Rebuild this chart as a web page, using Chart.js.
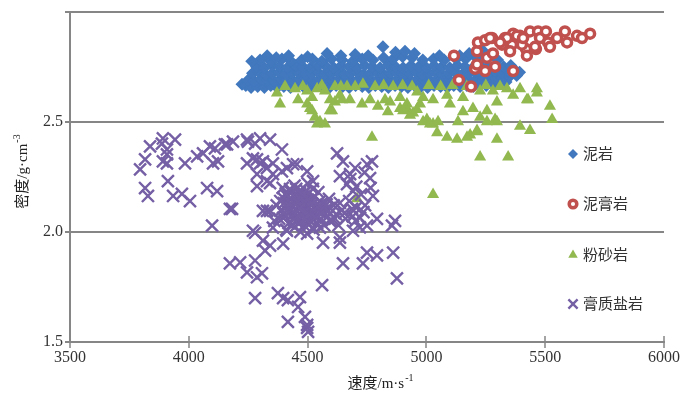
<!DOCTYPE html>
<html>
<head>
<meta charset="utf-8">
<script src="https://cdn.jsdelivr.net/npm/chart.js@4.4.1/dist/chart.umd.min.js"></script>
<style>
  html, body { margin: 0; padding: 0; background: #fff; }
</style>
</head>
<body>
<canvas id="chart" width="695" height="397"></canvas>
<script>
// 泥岩
let mudstone = [
  [4224,2.67],[4240,2.665],[4262,2.655],[4290,2.66],[4318,2.655],[4345,2.665],[4372,2.655],[4400,2.66],[4428,2.655],[4455,2.665],
  [4482,2.66],[4510,2.655],[4538,2.665],[4565,2.66],[4592,2.655],[4620,2.665],[4648,2.66],[4675,2.655],[4702,2.665],[4730,2.66],
  [4758,2.655],[4785,2.665],[4812,2.66],[4840,2.655],[4868,2.665],[4895,2.66],[4922,2.655],[4950,2.665],[4978,2.66],[5005,2.655],
  [5032,2.665],[5060,2.66],[5088,2.655],[5115,2.665],[5142,2.66],[5170,2.665],[5198,2.66],[5225,2.67],[5252,2.665],[5280,2.67],
  [5308,2.675],[5335,2.68],
  [4250,2.69],[4276,2.685],[4304,2.695],[4331,2.69],[4358,2.685],[4386,2.695],[4414,2.69],[4441,2.685],[4468,2.695],[4496,2.69],
  [4524,2.685],[4551,2.695],[4578,2.69],[4606,2.685],[4634,2.695],[4661,2.69],[4688,2.685],[4716,2.695],[4744,2.69],[4771,2.685],
  [4798,2.695],[4826,2.69],[4854,2.685],[4881,2.695],[4908,2.69],[4936,2.685],[4964,2.695],[4991,2.69],[5018,2.685],[5046,2.695],
  [5074,2.69],[5101,2.685],[5128,2.695],[5156,2.69],[5184,2.685],[5211,2.695],[5238,2.69],[5266,2.70],[5294,2.695],[5321,2.70],
  [5350,2.705],[5380,2.71],
  [4268,2.72],[4296,2.725],[4324,2.715],[4352,2.72],[4380,2.725],[4407,2.715],[4434,2.72],[4462,2.725],[4490,2.715],[4517,2.72],
  [4544,2.725],[4572,2.715],[4600,2.72],[4627,2.725],[4654,2.715],[4682,2.72],[4710,2.725],[4737,2.715],[4764,2.72],[4792,2.725],
  [4820,2.715],[4847,2.72],[4874,2.725],[4902,2.715],[4930,2.72],[4957,2.725],[4984,2.715],[5012,2.72],[5040,2.725],[5067,2.715],
  [5094,2.72],[5122,2.725],[5150,2.715],[5177,2.72],[5204,2.725],[5232,2.715],[5260,2.72],[5288,2.73],[5315,2.725],[5343,2.73],
  [5372,2.735],[5392,2.725],
  [4285,2.75],[4318,2.745],[4350,2.755],[4382,2.75],[4415,2.745],[4448,2.755],[4480,2.75],[4512,2.745],[4545,2.755],[4578,2.75],
  [4610,2.745],[4642,2.755],[4675,2.75],[4708,2.745],[4740,2.755],[4772,2.75],[4805,2.745],[4838,2.755],[4870,2.75],[4902,2.745],
  [4935,2.755],[4968,2.75],[5000,2.745],[5032,2.755],[5065,2.75],[5098,2.745],[5130,2.755],[5162,2.75],[5195,2.745],[5228,2.755],
  [5260,2.75],[5292,2.755],[5325,2.75],[5355,2.755],
  [4300,2.78],[4345,2.775],[4392,2.785],[4430,2.775],[4475,2.78],[4520,2.785],[4560,2.775],[4600,2.785],[4645,2.78],[4690,2.775],
  [4730,2.785],[4775,2.78],[4820,2.79],[4860,2.785],[4900,2.795],[4940,2.79],[4985,2.78],[5030,2.785],[5075,2.78],[5120,2.79],
  [5165,2.785],[5210,2.79],[5250,2.795],[5300,2.78],
  [4265,2.775],[4330,2.80],[4420,2.80],[4582,2.81],[4640,2.80],[4700,2.805],[4817,2.84],[4870,2.815],[4910,2.82],[4950,2.81],
  [5180,2.81],[5240,2.82],[4368,2.79],[4500,2.795],[4755,2.80],[5055,2.80],[5140,2.80]
];

// 泥膏岩
let gypsumMudstone = [
  [5116,2.80],[5137,2.69],[5188,2.66],[5205,2.74],[5213,2.76],[5213,2.82],[5217,2.86],[5247,2.87],[5247,2.73],[5255,2.79],
  [5276,2.88],[5280,2.81],[5289,2.75],[5318,2.85],[5331,2.88],[5360,2.85],[5365,2.90],[5365,2.73],[5394,2.89],[5419,2.83],
  [5423,2.80],[5436,2.91],[5461,2.83],[5470,2.91],[5478,2.88],[5503,2.91],[5512,2.86],[5520,2.84],[5550,2.88],[5583,2.91],
  [5592,2.86],[5634,2.89],[5655,2.88],[5689,2.90],[5339,2.88],[5381,2.89],[5310,2.86],[5352,2.82],[5402,2.85],[5268,2.88],
  [5407,2.88],[5457,2.84]
];

// 粉砂岩
let siltstone = [
  [4371,2.63],[4384,2.58],[4447,2.65],[4460,2.60],[4498,2.58],[4519,2.55],[4540,2.49],[4573,2.49],[4603,2.55],[4615,2.59],
  [4540,2.65],[4573,2.64],[4615,2.66],[4645,2.60],[4678,2.60],[4666,2.66],[4700,2.66],[4733,2.67],[4729,2.58],[4763,2.60],
  [4771,2.43],[4796,2.57],[4784,2.66],[4519,2.61],[4498,2.64],[4510,2.56],[4531,2.52],[4552,2.50],[4594,2.55],[4594,2.60],
  [4636,2.62],[4826,2.60],[4889,2.61],[4918,2.56],[4944,2.54],[4973,2.58],[5002,2.51],[5028,2.49],[5049,2.50],[5087,2.43],
  [5129,2.42],[5133,2.50],[5154,2.545],[5184,2.44],[5213,2.46],[5226,2.52],[5255,2.55],[5289,2.51],[5297,2.42],[5226,2.34],
  [5344,2.34],[5394,2.48],[5436,2.46],[5428,2.60],[5465,2.63],[5226,2.64],[5280,2.64],[5339,2.65],[5394,2.65],[5365,2.62],
  [5297,2.59],[5196,2.56],[5154,2.61],[5099,2.58],[5087,2.62],[5028,2.60],[4986,2.61],[4961,2.635],[4889,2.56],[4847,2.59],
  [4838,2.545],[5529,2.51],[5465,2.65],[5423,2.60],[5520,2.57],[5028,2.17],[4708,2.15],
  [4405,2.66],[4480,2.66],[4560,2.665],[4640,2.66],[4820,2.665],[4860,2.66],[4900,2.665],[4940,2.66],[5010,2.665],[5060,2.66],
  [5110,2.665],[5170,2.66],[5250,2.665],[5310,2.66],
  [4902,2.55],[4931,2.53],[4986,2.50],[5015,2.49],[5045,2.45],[5171,2.43],[5213,2.455],[5255,2.50],[5297,2.50],[4918,2.58],
  [4960,2.555]
];

// 膏质盐岩
let gypsumSalt = [
  [3837,2.388],[3891,2.424],[3942,2.419],[3887,2.401],[3908,2.374],[3908,2.352],[3891,2.32],[3908,2.311],[3816,2.329],[3795,2.284],
  [3984,2.311],[3912,2.23],[3816,2.199],[3828,2.163],[3934,2.163],[3971,2.172],[4005,2.14],[4077,2.199],[4119,2.185],[4182,2.104],
  [4098,2.028],[4035,2.343],[4060,2.356],[4089,2.388],[4110,2.379],[4102,2.311],[4123,2.32],[4161,2.397],[4186,2.41],[4245,2.419],
  [4279,2.401],[4300,2.424],[4342,2.419],[4392,2.374],[4245,2.311],[4287,2.329],[4312,2.32],[4329,2.289],[4354,2.311],[4287,2.208],
  [4329,2.23],[4392,2.275],[4439,2.307],[4329,2.095],[4279,1.996],
  [4152,2.397],[4249,2.41],[4270,2.334],[4300,2.311],[4287,2.262],[4354,2.262],[4342,2.221],[4413,2.289],[4455,2.307],[4498,2.275],
  [4523,2.23],[4624,2.356],[4649,2.32],[4750,2.307],[4771,2.32],[4763,2.244],[4636,2.253],[4679,2.262],[4666,2.217],[4691,2.185],
  [4775,2.163],[4173,2.104],[4312,2.095],[4270,2.005],[4397,2.154],[4426,2.194],[4468,2.176],[4552,2.14],[4594,2.109],[4636,2.131],
  [4687,2.104],[4721,2.064],[4750,2.028],[4792,2.059],[4855,2.028],[4868,2.05],[4636,1.974],[4691,2.005],[4552,2.019],[4498,1.992],
  [4413,2.005],[4354,2.019],[4312,1.96],[4468,2.064],[4523,2.082],[4594,2.05],[4397,2.064],[4342,2.095],
  [4173,1.857],[4216,1.861],[4245,1.816],[4279,1.87],[4308,1.812],[4287,1.794],[4321,1.915],[4342,1.938],[4397,1.947],[4279,1.699],
  [4375,1.722],[4397,1.699],[4417,1.69],[4468,1.704],[4460,1.659],[4489,1.614],[4417,1.591],[4498,1.564],[4502,1.546],[4498,1.578],
  [4561,1.758],[4649,1.857],[4733,1.857],[4750,1.906],[4792,1.893],[4860,1.906],[4876,1.789],[4565,1.951],[4636,1.951],
  [4390,2.10],[4400,2.13],[4405,2.07],[4415,2.16],[4420,2.04],[4425,2.11],[4430,2.18],[4435,2.08],[4440,2.14],[4445,2.02],
  [4450,2.10],[4455,2.17],[4460,2.06],[4465,2.12],[4470,2.19],[4475,2.09],[4480,2.15],[4485,2.03],[4490,2.11],[4495,2.07],
  [4500,2.17],[4505,2.13],[4510,2.05],[4515,2.10],[4520,2.15],[4525,2.01],[4530,2.08],[4535,2.12],[4540,2.04],[4545,2.18],
  [4550,2.09],[4555,2.06],[4560,2.13],[4570,2.03],[4575,2.10],[4585,2.07],[4590,2.15],[4600,2.05],[4610,2.12],[4620,2.08],
  [4630,2.03],[4645,2.10],[4660,2.06],[4675,2.14],[4690,2.07],[4705,2.11],[4720,2.02],[4735,2.09],[4380,2.06],[4370,2.12],
  [4360,2.05],[4395,2.20],[4445,2.21],[4410,2.01],[4470,2.00],[4500,2.22],[4465,2.04],[4428,2.15],[4488,2.14],
  [4455,2.045],[4478,2.12],[4512,2.08],[4432,2.125],[4495,2.185],[4528,2.16],[4418,2.09],[4462,2.155],[4508,2.035],[4540,2.10],
  [4412,2.115],[4438,2.165],[4448,2.085],[4458,2.135],[4472,2.075],[4482,2.175],[4492,2.095],[4502,2.145],[4518,2.125],[4532,2.065],
  [4548,2.12],[4562,2.09],[4442,2.055],[4468,2.105],[4488,2.06],[4522,2.195],[4408,2.175],[4385,2.14],[4398,2.085],[4452,2.195],
  [4580,2.125],[4595,2.085],[4615,2.06],[4655,2.085],[4702,2.05],[4742,2.12],[4725,2.17],[4705,2.205],[4680,2.24],[4740,2.27],
  [4700,2.29],[4765,2.20]
];

let seriesNames = ['泥岩', '泥膏岩', '粉砂岩', '膏质盐岩'];
let xTicks = [3500, 4000, 4500, 5000, 5500, 6000];
let yTicks = [1.5, 2.0, 2.5, 3.0];

const serif = '"Liberation Serif", "Times New Roman", "Noto Sans CJK SC", serif';
const axisGray = '#868686';

function toPoints(arr) {
  return arr.map(p => ({ x: p[0], y: p[1] }));
}

function series(label, arr, style, radius, fill, stroke, bw, order) {
  return {
    label, data: toPoints(arr), order,
    pointStyle: style, pointRadius: radius,
    pointBackgroundColor: fill, pointBorderColor: stroke, pointBorderWidth: bw,
    backgroundColor: fill, borderColor: stroke, borderWidth: bw
  };
}

let datasets = [
  series(seriesNames[0], mudstone, 'rectRot', 6.5, '#4178BE', '#4178BE', 0, 4),
  series(seriesNames[1], gypsumMudstone, 'circle', 4.5, '#ffffff', '#C0504D', 3.5, 2),
  series(seriesNames[2], siltstone, 'triangle', 7, '#92B850', '#92B850', 0, 3),
  series(seriesNames[3], gypsumSalt, 'crossRot', 8.5, '#755FA5', '#755FA5', 2.4, 1)
];

// legend markers are smaller than the plot marks
let legendMarks = [
  { pointStyle: 'rectRot', radius: 5 },
  { pointStyle: 'circle', radius: 3.8 },
  { pointStyle: 'triangle', radius: 5.5 },
  { pointStyle: 'crossRot', radius: 6.5 }
];

function drawSupText(ctx, main, sup, cx, cy) {
  ctx.font = '15px ' + serif;
  let w1 = ctx.measureText(main).width;
  ctx.font = '10px ' + serif;
  let w2 = ctx.measureText(sup).width;
  let x0 = cx - (w1 + w2) / 2;
  ctx.textBaseline = 'middle';
  ctx.textAlign = 'left';
  ctx.font = '15px ' + serif;
  ctx.fillText(main, x0, cy);
  ctx.font = '10px ' + serif;
  ctx.fillText(sup, x0 + w1 + 1, cy - 6);
}

const decor = {
  id: 'decor',
  afterDraw(chart) {
    const { ctx, chartArea: a, scales: { x } } = chart;
    ctx.save();
    // cross tick marks on the x axis
    ctx.strokeStyle = axisGray;
    ctx.lineWidth = 1.5;
    xTicks.forEach(v => {
      let px = Math.round(x.getPixelForValue(v));
      ctx.beginPath();
      ctx.moveTo(px, a.bottom - 6);
      ctx.lineTo(px, a.bottom + 6);
      ctx.stroke();
    });

    // axis titles
    ctx.fillStyle = '#222';
    drawSupText(ctx, '速度/m·s', '-1', 380, 384);
    ctx.save();
    ctx.translate(23, 172);
    ctx.rotate(-Math.PI / 2);
    drawSupText(ctx, '密度/g·cm', '-3', 0, 0);
    ctx.restore();

    // legend inside the plot area
    let ly = [154, 204, 255, 304];
    datasets.forEach((ds, i) => {
      ctx.fillStyle = ds.pointBackgroundColor;
      ctx.strokeStyle = ds.pointBorderColor;
      ctx.lineWidth = ds.pointBorderWidth;
      Chart.helpers.drawPoint(ctx, {
        pointStyle: legendMarks[i].pointStyle,
        radius: legendMarks[i].radius,
        rotation: 0,
        borderWidth: Math.min(ds.pointBorderWidth, 3)
      }, 573, ly[i]);
      ctx.fillStyle = '#333';
      ctx.font = '15px ' + serif;
      ctx.textAlign = 'left';
      ctx.textBaseline = 'middle';
      ctx.fillText(ds.label, 583, ly[i] + 1);
    });
    ctx.restore();
  }
};

new Chart(document.getElementById('chart'), {
  type: 'scatter',
  data: { datasets },
  options: {
    responsive: false,
    animation: false,
    events: [],
    layout: { padding: { top: 8, right: 31, left: 0, bottom: 0 } },
    plugins: { legend: { display: false }, tooltip: { enabled: false } },
    scales: {
      x: {
        type: 'linear', min: xTicks[0], max: xTicks[xTicks.length - 1],
        afterBuildTicks: s => { s.ticks = xTicks.map(v => ({ value: v })); },
        ticks: { callback: v => String(v), font: { family: serif, size: 16 }, color: '#333', padding: 6, maxRotation: 0 },
        grid: { display: true, drawOnChartArea: false, drawTicks: false },
        border: { color: axisGray, width: 2 },
        afterFit: s => { s.height = 55; }
      },
      y: {
        type: 'linear', min: yTicks[0], max: yTicks[yTicks.length - 1],
        afterBuildTicks: s => { s.ticks = yTicks.map(v => ({ value: v })); },
        ticks: { callback: v => v >= 3 ? '' : v.toFixed(1), font: { family: serif, size: 16 }, color: '#333', padding: 2 },
        grid: { color: axisGray, lineWidth: 2, tickLength: 5 },
        border: { color: axisGray, width: 2 },
        afterFit: s => { s.width = 70; }
      }
    }
  },
  plugins: [decor]
});
</script>
</body>
</html>
